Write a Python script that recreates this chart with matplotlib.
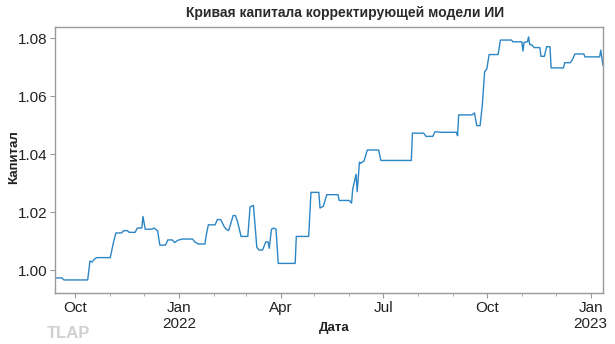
import matplotlib
matplotlib.use("Agg")
import matplotlib.pyplot as plt
import matplotlib.dates as mdates
import pandas as pd

plt.rcParams["font.family"] = ["Liberation Sans", "DejaVu Sans"]

# Equity curve breakpoints
dates = [
    "2021-09-13", "2021-09-19", "2021-09-21", "2021-10-12", "2021-10-14", "2021-10-16",
    "2021-10-18", "2021-10-20", "2021-11-01", "2021-11-04", "2021-11-06", "2021-11-11",
    "2021-11-13", "2021-11-16", "2021-11-18", "2021-11-23", "2021-11-25", "2021-11-29",
    "2021-11-30", "2021-12-02", "2021-12-08", "2021-12-10", "2021-12-13", "2021-12-15",
    "2021-12-20", "2021-12-22", "2021-12-26", "2021-12-28", "2021-12-31", "2022-01-04",
    "2022-01-13", "2022-01-15", "2022-01-18", "2022-01-24", "2022-01-25", "2022-01-27",
    "2022-02-02", "2022-02-04", "2022-02-07", "2022-02-10", "2022-02-12", "2022-02-14",
    "2022-02-18", "2022-02-20", "2022-02-22", "2022-02-25", "2022-03-03", "2022-03-05",
    "2022-03-08", "2022-03-11", "2022-03-13", "2022-03-16", "2022-03-19", "2022-03-21",
    "2022-03-22", "2022-03-24", "2022-03-26", "2022-03-28", "2022-03-30", "2022-04-14",
    "2022-04-15", "2022-04-26", "2022-04-28", "2022-05-05", "2022-05-06", "2022-05-09",
    "2022-05-12", "2022-05-22", "2022-05-23", "2022-06-01", "2022-06-03", "2022-06-04",
    "2022-06-07", "2022-06-08", "2022-06-10", "2022-06-11", "2022-06-14", "2022-06-17",
    "2022-06-27", "2022-06-29", "2022-07-26", "2022-07-27", "2022-08-06", "2022-08-08",
    "2022-08-14", "2022-08-16", "2022-08-22", "2022-09-04", "2022-09-05", "2022-09-06",
    "2022-09-18", "2022-09-20", "2022-09-22", "2022-09-25", "2022-09-27", "2022-09-29",
    "2022-10-01", "2022-10-03", "2022-10-11", "2022-10-13", "2022-10-23", "2022-10-24",
    "2022-11-01", "2022-11-02", "2022-11-03", "2022-11-06", "2022-11-07", "2022-11-08",
    "2022-11-10", "2022-11-12", "2022-11-17", "2022-11-18", "2022-11-21", "2022-11-23",
    "2022-11-26", "2022-11-27", "2022-12-08", "2022-12-09", "2022-12-14", "2022-12-16",
    "2022-12-18", "2022-12-26", "2022-12-27", "2023-01-09", "2023-01-10", "2023-01-12",
]
capital = [
    0.9973, 0.9973, 0.9966, 0.9966, 1.0031, 1.0028,
    1.0038, 1.0043, 1.0043, 1.0098, 1.0128, 1.0128,
    1.0136, 1.0136, 1.0130, 1.0130, 1.0145, 1.0145,
    1.0185, 1.0141, 1.0141, 1.0145, 1.0135, 1.0086,
    1.0086, 1.0104, 1.0104, 1.0095, 1.0103, 1.0107,
    1.0107, 1.0097, 1.0090, 1.0090, 1.0118, 1.0156,
    1.0156, 1.0174, 1.0174, 1.0150, 1.0140, 1.0136,
    1.0188, 1.0188, 1.0165, 1.0116, 1.0116, 1.0218,
    1.0223, 1.0078, 1.0069, 1.0069, 1.0097, 1.0097,
    1.0075, 1.0141, 1.0145, 1.0141, 1.0023, 1.0023,
    1.0116, 1.0116, 1.0268, 1.0268, 1.0214, 1.0220,
    1.0260, 1.0260, 1.0240, 1.0240, 1.0231, 1.0278,
    1.0330, 1.0270, 1.0372, 1.0368, 1.0376, 1.0414,
    1.0414, 1.0378, 1.0378, 1.0472, 1.0472, 1.0461,
    1.0461, 1.0477, 1.0475, 1.0475, 1.0463, 1.0535,
    1.0535, 1.0542, 1.0498, 1.0498, 1.0570, 1.0683,
    1.0694, 1.0743, 1.0743, 1.0793, 1.0793, 1.0787,
    1.0787, 1.0755, 1.0785, 1.0787, 1.0804, 1.0778,
    1.0776, 1.0767, 1.0767, 1.0737, 1.0737, 1.0770,
    1.0770, 1.0697, 1.0697, 1.0715, 1.0715, 1.0726,
    1.0745, 1.0745, 1.0735, 1.0735, 1.0758, 1.0706,
]

tick_dates = ["2021-10-01", "2022-01-01", "2022-04-01", "2022-07-01", "2022-10-01", "2023-01-01"]
tick_labels = ["Oct", "Jan\n2022", "Apr", "Jul", "Oct", "Jan\n2023"]
y_ticks = [1.00, 1.02, 1.04, 1.06, 1.08]

title = "Кривая капитала корректирующей модели ИИ"
xlabel = "Дата"
ylabel = "Капитал"

x = pd.to_datetime(dates)

fig = plt.figure(figsize=(6.15, 3.44), dpi=100)
ax = fig.add_axes([55 / 615, 1 - 293 / 344, (603 - 55) / 615, (293 - 27) / 344])

ax.plot(x, capital, color="#2b86c5", lw=1.0)

ax.set_xlim(x[0], x[-1])
ax.set_ylim(0.9921, 1.0838)
ax.set_yticks(y_ticks)
ax.set_yticklabels([f"{v:.2f}" for v in y_ticks])
ax.set_xticks(pd.to_datetime(tick_dates))
ax.set_xticklabels(tick_labels)
ax.xaxis.set_minor_locator(mdates.MonthLocator())

ax.tick_params(axis="both", which="major", labelsize=11, colors="#999999",
               labelcolor="#222222", length=3.5, width=0.8, pad=2)
ax.tick_params(axis="x", which="minor", colors="#999999", length=2, width=0.6)
for s in ax.spines.values():
    s.set_color("#999999")
    s.set_linewidth(1.0)

ax.set_ylabel(ylabel, fontsize=9.5, fontweight="bold", color="#222222")
ax.yaxis.set_label_coords((14 - 55) / 548, (293 - 157) / 266)
ax.set_xlabel(xlabel, fontsize=9.5, fontweight="bold", color="#222222")
ax.xaxis.set_label_coords((334 - 55) / 548, (293 - 328) / 266)
ax.xaxis.label.set_va("center")
ax.yaxis.label.set_va("center")

fig.text(345 / 615, 1 - 13 / 344, title, ha="center", va="center",
         fontsize=10, fontweight="bold", color="#2a2a2a")
fig.text(47 / 615, 1 - 333 / 344, "TLAP", ha="left", va="center",
         fontsize=12, fontweight="bold", color="#d0d0d0")

fig.savefig("out.png", dpi=100)
